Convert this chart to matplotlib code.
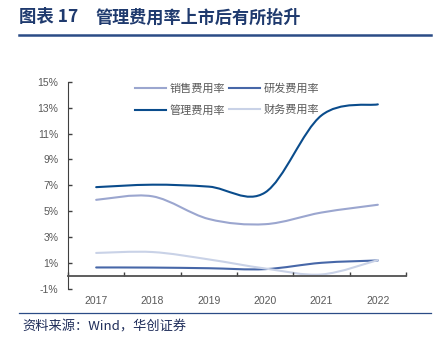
import matplotlib
matplotlib.use("Agg")
import matplotlib.pyplot as plt
from matplotlib.path import Path
from matplotlib.patches import PathPatch
from matplotlib.lines import Line2D
import numpy as np

plt.rcParams['font.family'] = ['Liberation Sans', 'Noto Sans CJK SC', 'DejaVu Sans']

years = ['2017', '2018', '2019', '2020', '2021', '2022']
sales = [5.88, 6.15, 4.4, 4.0, 4.9, 5.5]       # 销售费用率
rnd = [0.66, 0.65, 0.6, 0.53, 1.02, 1.2]        # 研发费用率
admin = [6.86, 7.05, 6.9, 6.45, 12.4, 13.25]    # 管理费用率
fin = [1.78, 1.85, 1.28, 0.58, 0.12, 1.23]      # 财务费用率
yticks = [-1, 1, 3, 5, 7, 9, 11, 13, 15]

series = [
    ('销售费用率', sales, '#9BA6CF'),
    ('研发费用率', rnd, '#4767A8'),
    ('管理费用率', admin, '#0A4C8C'),
    ('财务费用率', fin, '#C9D2E7'),
]

CJK = ['Noto Sans CJK SC', 'DejaVu Sans']


def smooth_path(xs, ys):
    # catmull-rom segments drawn as cubic beziers
    p = np.column_stack([xs, ys]).astype(float)
    ext = np.vstack([p[0], p, p[-1]])
    verts = [tuple(p[0])]
    codes = [Path.MOVETO]
    for i in range(len(p) - 1):
        p0, p1, p2, p3 = ext[i], ext[i + 1], ext[i + 2], ext[i + 3]
        c1 = p1 + (p2 - p0) / 6
        c2 = p2 - (p3 - p1) / 6
        verts += [tuple(c1), tuple(c2), tuple(p2)]
        codes += [Path.CURVE4] * 3
    return Path(verts, codes)


fig = plt.figure(figsize=(4.43, 3.44), dpi=100)
ax = fig.add_axes([0.1535, 0.160, 0.763, 0.6025])

x = np.arange(len(years))
for name, vals, col in series:
    patch = PathPatch(smooth_path(x, vals), facecolor='none', edgecolor=col,
                      lw=1.5, capstyle='round')
    ax.add_patch(patch)

ax.set_xlim(-0.5, 5.5)
ax.set_ylim(-1, 15)
ax.set_yticks(yticks)
ax.set_yticklabels([f'{v}%' for v in yticks])
ax.tick_params(axis='y', direction='in', length=3, width=1, color='#404040',
               labelsize=7.5, labelcolor='#595959', pad=7)

ax.spines['top'].set_visible(False)
ax.spines['right'].set_visible(False)
ax.spines['left'].set_color('#404040')
ax.spines['bottom'].set_position(('data', 0))
ax.spines['bottom'].set_color('#505050')
ax.spines['bottom'].set_linewidth(1.3)
ax.set_xticks(np.arange(-0.5, 6, 1))
ax.tick_params(axis='x', direction='in', length=3, width=1, color='#404040',
               labelbottom=False)

sec = ax.secondary_xaxis(0)
sec.set_xticks(x)
sec.set_xticklabels(years)
sec.tick_params(length=0, labelsize=7.5, labelcolor='#595959', pad=5)
sec.spines['bottom'].set_visible(False)

# legend fills column-wise: rows are 销售/研发 and 管理/财务
order = [0, 2, 1, 3]
handles = [Line2D([], [], color=series[i][2], lw=1.5) for i in order]
labels = [series[i][0] for i in order]
leg = ax.legend(handles, labels, ncol=2, loc='upper left',
                bbox_to_anchor=(0.198, 0.99), frameon=False, borderaxespad=0,
                borderpad=0, handlelength=2.8, handletextpad=0.35,
                columnspacing=0.3, labelspacing=0.95,
                prop={'family': CJK, 'size': 8})
for t in leg.get_texts():
    t.set_color('#595959')

fig.text(0.043, 0.95, '图表 17', family=CJK,
         fontsize=12.5, fontweight='bold', color='#1F3A6E', va='center')
fig.text(96 / 443, 0.95, '管理费用率上市后有所抬升', family=CJK,
         fontsize=12.3, fontweight='bold', color='#1F3A6E', va='center')
fig.add_artist(Line2D([19 / 443, 431 / 443], [1 - 35 / 344, 1 - 35 / 344],
                      color='#2B4C86', lw=1.8))
fig.add_artist(Line2D([19 / 443, 431 / 443], [1 - 313 / 344, 1 - 313 / 344],
                      color='#2B4C86', lw=0.9))
fig.text(0.05, 1 - 327 / 344, '资料来源：Wind，华创证券', family=CJK,
         fontsize=9.5, style='italic', color='#1F2D5A', va='center')

fig.savefig('out.png', dpi=100)
